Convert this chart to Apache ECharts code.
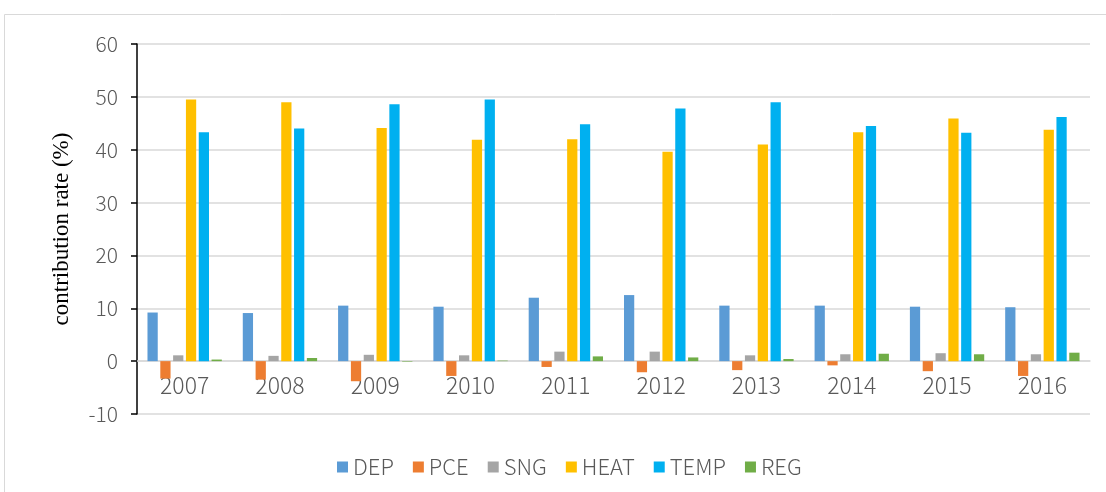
<!DOCTYPE html>
<html>
<head>
<meta charset="utf-8">
<script src="https://cdn.jsdelivr.net/npm/echarts@6/dist/echarts.min.js"></script>
<style>
  html, body { margin: 0; padding: 0; background: #fff; }
  #chart { width: 1106px; height: 492px; }
</style>
</head>
<body>
<div id="chart"></div>
<script>
// years on the x axis
var years = ['2007', '2008', '2009', '2010', '2011', '2012', '2013', '2014', '2015', '2016'];
// contribution rate (%) per factor
var dep  = [9.2, 9.1, 10.5, 10.3, 12.0, 12.5, 10.5, 10.5, 10.3, 10.2];
var pce  = [-3.3, -3.5, -3.8, -2.8, -1.1, -2.1, -1.7, -0.8, -1.9, -2.8];
var sng  = [1.1, 1.0, 1.2, 1.1, 1.8, 1.8, 1.1, 1.3, 1.5, 1.3];
var heat = [49.5, 49.0, 44.1, 41.9, 42.0, 39.6, 41.0, 43.3, 45.9, 43.8];
var temp = [43.3, 44.0, 48.6, 49.5, 44.8, 47.8, 49.0, 44.5, 43.2, 46.2];
var reg  = [0.3, 0.6, -0.1, 0.1, 0.9, 0.7, 0.4, 1.4, 1.3, 1.6];
var yTicks = { min: -10, max: 60, step: 10 };

var names = ['DEP', 'PCE', 'SNG', 'HEAT', 'TEMP', 'REG'];
var colors = ['#5B9BD5', '#ED7D31', '#A5A5A5', '#FFC000', '#00B0F0', '#70AD47'];
var values = [dep, pce, sng, heat, temp, reg];

var myChart = echarts.init(document.getElementById('chart'));
var series = [];
for (var i = 0; i < names.length; i++) {
    series.push({
        name: names[i],
        type: 'bar',
        data: values[i],
        barGap: '25%',
        barCategoryGap: '22%',
        itemStyle: { color: colors[i] }
    });
}
var option = {
    animation: false,
    color: colors,
    graphic: [{
        type: 'rect',
        shape: { x: 4.5, y: 14.5, width: 1110, height: 490 },
        style: { fill: 'none', stroke: '#d9d9d9', lineWidth: 1 },
        silent: true
    }],
    grid: { left: 137, right: 16, top: 44, bottom: 78 },
    legend: {
        top: 451,
        left: 332,
        itemWidth: 11,
        itemHeight: 11,
        itemGap: 19,
        icon: 'rect',
        data: names,
        textStyle: { color: '#595959', fontSize: 22, fontWeight: 300, fontFamily: 'Noto Sans CJK SC' }
    },
    xAxis: {
        type: 'category',
        data: years,
        axisLine: { onZero: true, lineStyle: { color: '#d9d9d9', width: 1.5 } },
        axisTick: { show: false },
        // labels sit just under the zero line, like the source
        axisLabel: { color: '#595959', fontSize: 23, fontWeight: 300, margin: -40, fontFamily: 'Noto Sans CJK SC' }
    },
    yAxis: {
        type: 'value',
        min: yTicks.min,
        max: yTicks.max,
        interval: yTicks.step,
        name: 'contribution rate (%)',
        nameLocation: 'middle',
        nameGap: 64,
        nameTextStyle: { color: '#000', fontSize: 23, fontFamily: 'Liberation Serif' },
        axisLine: { show: true, lineStyle: { color: '#000', width: 1.5 } },
        axisTick: { show: true, length: 6, lineStyle: { color: '#000', width: 1.5 } },
        axisLabel: { color: '#595959', fontSize: 21, fontWeight: 300, margin: 19, fontFamily: 'Noto Sans CJK SC' },
        splitLine: { lineStyle: { color: '#d9d9d9', width: 1.5 } }
    },
    series: series
};
myChart.setOption(option);
</script>
</body>
</html>
